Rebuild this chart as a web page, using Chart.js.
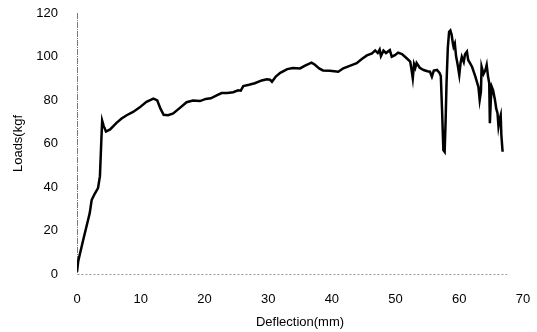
<!DOCTYPE html>
<html>
<head>
<meta charset="utf-8">
<script src="https://cdn.jsdelivr.net/npm/chart.js@4"></script>
<style>
  html, body { margin: 0; padding: 0; background: #fff; }
  #wrap { width: 537px; height: 332px; }
</style>
</head>
<body>
<div id="wrap"><canvas id="chart"></canvas></div>
<script>
// Curva carga x deflexão
const deflection = [
  0, 0.2, 1.0, 2.0, 2.3, 2.8, 3.3, 3.6, 3.8, 3.95, 4.2, 4.55, 5.2, 6.2, 7.0, 7.8, 8.8, 9.8,
  10.9, 12.0, 12.6, 13.1, 13.6, 14.3, 15.1, 16.2, 17.2, 18.2, 19.3, 20.2, 21.0, 22.0, 22.7,
  23.6, 24.5, 25.3, 25.7, 26.1, 27.0, 27.9, 29.0, 29.8, 30.3, 30.6, 31.2, 31.9, 33.0, 33.9,
  35.0, 35.8, 36.8, 37.3, 38.0, 38.6, 39.7, 41.0, 41.8, 42.9, 43.9, 44.7, 45.5, 46.3, 46.8,
  47.2, 47.5, 47.7, 48.1, 48.5, 49.1, 49.4, 49.9, 50.4, 51.0, 51.7, 52.3, 52.5, 52.7, 52.9,
  53.1, 53.3, 53.8, 54.4, 55.0, 55.4, 55.7, 56.0, 56.5, 56.9, 57.1, 57.3, 57.5, 57.7, 57.85,
  58.0, 58.2, 58.4, 58.6, 58.8, 59.0, 59.1, 59.3, 59.5, 59.7, 60.0, 60.2, 60.4, 60.7, 60.9,
  61.2, 61.4, 62.0, 62.5, 63.0, 63.2, 63.4, 63.5, 63.8, 64.1, 64.3, 64.5, 64.7, 64.8, 64.95,
  65.1, 65.3, 65.6, 65.8, 66.0, 66.15, 66.3, 66.5, 66.6, 66.8
];
const loads = [
  1, 6, 16, 28, 34, 37, 39.5, 45, 60, 70.5, 68, 65.5, 66.5, 69.5, 71.5, 73, 74.5, 76.5,
  79.2, 80.6, 79.8, 76, 73.2, 73, 73.8, 76.5, 79, 79.8, 79.5, 80.5, 80.8, 82.2, 83.2,
  83.2, 83.6, 84.5, 84.3, 86.4, 87, 87.7, 89.0, 89.5, 89.3, 88.4, 90.8, 92.5, 94.2, 94.7,
  94.5, 95.8, 97.2, 96.3, 94.5, 93.6, 93.5, 93, 94.6, 95.8, 96.9, 98.8, 100.5, 101.4, 102.8,
  101.6, 103.2, 100.2, 102.7, 101.6, 102.9, 99.9, 100.6, 101.8, 101.1, 99.3, 97.6, 94, 90, 96.5,
  94.8, 97, 94.8, 93.8, 93.2, 93, 90.7, 93.5, 93.8, 92.5, 91, 75, 57, 56.2, 70,
  88, 104, 111.4, 112, 110, 106, 104.5, 106, 100, 97, 91.5, 97, 99.9, 97.5, 101,
  102.2, 98.4, 95.3, 91, 86, 80, 84, 95.3, 92, 93.8, 96.1, 91, 87.7, 69.3, 80,
  86, 84.5, 80, 76, 73.9, 68, 70.8, 73, 64, 56.2
];
const xTicks = [0, 10, 20, 30, 40, 50, 60, 70];
const yTicks = [0, 20, 40, 60, 80, 100, 120];
const xAxisEnd = 67.5; // a linha pontilhada do eixo x para antes do 70

const points = deflection.map((d, i) => ({ x: d, y: loads[i] }));
const font = { family: '"Liberation Sans", Arial, sans-serif', size: 13 };

// Eixos tracejados desenhados à mão (o border do Chart.js é sólido)
const axisLines = {
  id: 'axisLines',
  beforeDatasetsDraw(chart) {
    const { ctx, scales: { x, y } } = chart;
    const x0 = Math.round(x.getPixelForValue(0)) + 0.5;
    const y0 = Math.round(y.getPixelForValue(0)) + 0.5;
    ctx.save();
    ctx.lineWidth = 1;
    ctx.strokeStyle = '#777';
    ctx.setLineDash([6, 1, 1, 1]);
    ctx.beginPath();
    ctx.moveTo(x0, y.getPixelForValue(yTicks[yTicks.length - 1]));
    ctx.lineTo(x0, y0);
    ctx.stroke();
    ctx.strokeStyle = '#999';
    ctx.setLineDash([2, 2]);
    ctx.beginPath();
    ctx.moveTo(x0, y0);
    ctx.lineTo(x.getPixelForValue(xAxisEnd), y0);
    ctx.stroke();
    ctx.restore();
  }
};

new Chart(document.getElementById('chart'), {
  type: 'scatter',
  data: {
    datasets: [{
      data: points,
      showLine: true,
      borderColor: '#000',
      borderWidth: 2.5,
      pointRadius: 0,
      tension: 0
    }]
  },
  options: {
    responsive: true,
    maintainAspectRatio: false,
    animation: false,
    layout: { padding: { top: 13, right: 14, left: 11, bottom: 0 } },
    plugins: { legend: { display: false }, tooltip: { enabled: false } },
    scales: {
      x: {
        type: 'linear',
        min: xTicks[0], max: xTicks[xTicks.length - 1],
        afterBuildTicks: s => { s.ticks = xTicks.map(v => ({ value: v })); },
        afterFit: s => { s.height = 58; },
        // marcas de escala invisíveis só para afastar os rótulos do eixo
        grid: { display: true, drawOnChartArea: false, drawTicks: true, tickLength: 15, tickColor: 'rgba(0,0,0,0)' },
        border: { display: false },
        ticks: { color: '#000', font: font, padding: 3, maxRotation: 0 },
        title: { display: true, text: 'Deflection(mm)', color: '#000', font: font, padding: { top: 4, bottom: 2 } }
      },
      y: {
        type: 'linear',
        min: yTicks[0], max: yTicks[yTicks.length - 1],
        afterBuildTicks: s => { s.ticks = yTicks.map(v => ({ value: v })); },
        afterFit: s => { s.width = 66; },
        grid: { display: true, drawOnChartArea: false, drawTicks: true, tickLength: 16, tickColor: 'rgba(0,0,0,0)' },
        border: { display: false },
        ticks: { color: '#000', font: font, padding: 3 },
        title: { display: true, text: 'Loads(kgf', color: '#000', font: font, padding: { top: 0, bottom: 4 } }
      }
    }
  },
  plugins: [axisLines]
});
</script>
</body>
</html>
